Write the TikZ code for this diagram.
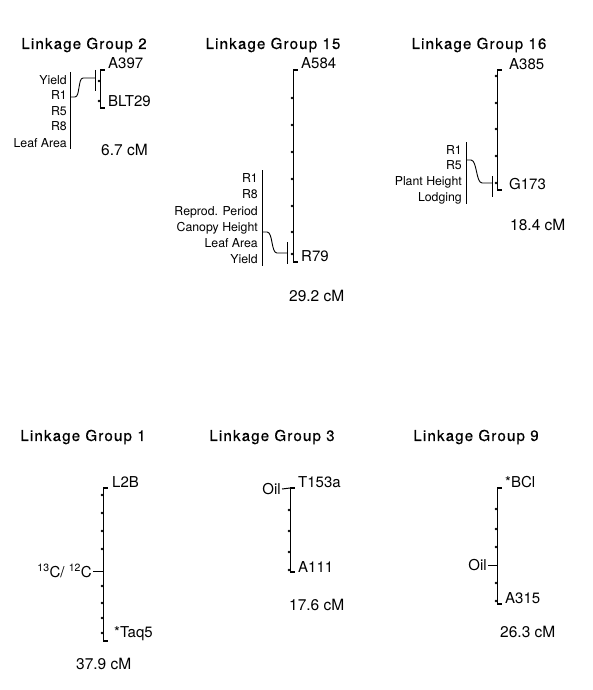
\documentclass[tikz,border=0pt]{standalone}
\usepackage{fontspec}
\setmainfont{TeX Gyre Heros}
\newfontfamily\ttlfont[LetterSpace=8,FakeBold=0.6]{TeX Gyre Heros}
\begin{document}
\begin{tikzpicture}[x=1pt,y=-1pt,
  chrom/.style={line width=1pt},
  tick/.style={line width=1.3pt},
  qtlbar/.style={line width=1pt},
  link/.style={line width=0.9pt},
  ttl/.style={font=\ttlfont\fontsize{15}{17}\selectfont, inner sep=0pt},
  mk/.style={font=\fontsize{15}{17}\selectfont, inner sep=0pt, anchor=base west},
  lmk/.style={font=\fontsize{15}{17}\selectfont, inner sep=0pt, anchor=east},
  trait/.style={font=\fontsize{12.3}{14}\selectfont, inner sep=0pt, anchor=base east},
  cml/.style={font=\fontsize{15.5}{17}\selectfont, inner sep=0pt, anchor=base west},
  bump/.style={circle, fill, inner sep=0pt, minimum size=2.6pt}]
\useasboundingbox (0,0) rectangle (592,690);

% ---------------- Linkage Group 2 ----------------
\node[ttl] (t2) at (84,45) {Linkage Group 2};
\coordinate (g2top) at (100,70);
\coordinate (g2bot) at (100,108);
\draw[chrom] (g2top) -- (g2bot);
\draw[tick] (g2top) -- ++(5,0);
\draw[tick] (g2bot) -- ++(5,0);
\node[bump] (g2d1) at (99,81) {};
\node[bump] (g2d2) at (99,101) {};
\node[mk] (A397) at (108,68.5) {A397};
\node[mk] (BLT29) at (108,106.5) {BLT29};
\node[cml] (cm2) at (101,155.5) {6.7 cM};
\coordinate (q2top) at (70,72);
\coordinate (q2bot) at (70,149);
\draw[qtlbar] (q2top) -- (q2bot);
\node[trait] (g2a) at (67,84.5) {Yield};
\node[trait] (g2b) at (67,100) {R1};
\node[trait] (g2c) at (67,115.5) {R5};
\node[trait] (g2d) at (67,131) {R8};
\node[trait] (g2e) at (67,147) {Leaf Area};
\coordinate (q2c) at (70,97);
\coordinate (b2t) at (95,70);
\coordinate (b2b) at (95,91);
\coordinate (s2) at (95,78);
\draw[link] (b2t) -- (b2b);
\draw[link] (q2c) -- ++(5,0) .. controls +(5,0) and +(-5,0) .. (83,78) -- (s2);

% ---------------- Linkage Group 15 ----------------
\node[ttl] (t15) at (273,45) {Linkage Group 15};
\coordinate (g15top) at (293,70);
\coordinate (g15bot) at (293,262);
\draw[chrom] (g15top) -- (g15bot);
\draw[tick] (g15top) -- ++(5,0);
\draw[tick] (g15bot) -- ++(5,0);
\foreach \y [count=\i] in {98,125,152,179,206,232,254}
  \node[bump] (g15d\i) at (292,\y) {};
\node[mk] (A584) at (301,68.5) {A584};
\node[mk] (R79) at (301,261.5) {R79};
\node[cml] (cm15) at (289,301.5) {29.2 cM};
\coordinate (q15top) at (262,170);
\coordinate (q15bot) at (262,266);
\draw[qtlbar] (q15top) -- (q15bot);
\node[trait] (g15a) at (258,182) {R1};
\node[trait] (g15b) at (258,198) {R8};
\node[trait] (g15c) at (258,215) {Reprod. Period};
\node[trait] (g15d) at (258,231) {Canopy Height};
\node[trait] (g15e) at (258,247) {Leaf Area};
\node[trait] (g15f) at (258,263) {Yield};
\coordinate (q15c) at (262,232);
\coordinate (b15t) at (287,242);
\coordinate (b15b) at (287,264);
\coordinate (s15) at (287,253);
\draw[link] (b15t) -- (b15b);
\draw[link] (q15c) -- ++(5,0) .. controls +(6,0) and +(-6,0) .. (277,253) -- (s15);

% ---------------- Linkage Group 16 ----------------
\node[ttl] (t16) at (479,45) {Linkage Group 16};
\coordinate (g16top) at (497,70);
\coordinate (g16bot) at (497,190);
\draw[chrom] (g16top) -- (g16bot);
\draw[tick] (g16top) -- ++(5,0);
\draw[tick] (g16bot) -- ++(5,0);
\foreach \y [count=\i] in {76,103,129,156,183}
  \node[bump] (g16d\i) at (496,\y) {};
\node[mk] (A385) at (509,69.5) {A385};
\node[mk] (G173) at (509,189) {G173};
\node[cml] (cm16) at (510,230.5) {18.4 cM};
\coordinate (q16top) at (466,142);
\coordinate (q16bot) at (466,204);
\draw[qtlbar] (q16top) -- (q16bot);
\node[trait] (g16a) at (462,154) {R1};
\node[trait] (g16b) at (462,169) {R5};
\node[trait] (g16c) at (462,185) {Plant Height};
\node[trait] (g16d) at (462,201) {Lodging};
\coordinate (q16c) at (466,160);
\coordinate (b16t) at (492,176);
\coordinate (b16b) at (492,197);
\coordinate (s16) at (492,183);
\draw[link] (b16t) -- (b16b);
\draw[link] (q16c) -- ++(5,0) .. controls +(6,0) and +(-6,0) .. (482,183) -- (s16);

% ---------------- Linkage Group 1 ----------------
\node[ttl] (t1) at (83,437) {Linkage Group 1};
\coordinate (g1top) at (103,488);
\coordinate (g1bot) at (103,641);
\draw[chrom] (g1top) -- (g1bot);
\draw[tick] (g1top) -- ++(5,0);
\draw[tick] (g1bot) -- ++(5,0);
\foreach \y [count=\i] in {495,513,531,549,586,603,618,633}
  \node[bump] (g1d\i) at (102,\y) {};
\coordinate (g1c) at (103,571);
\node[lmk] (C13) at (92,571) {\textsuperscript{13}C/ \textsuperscript{12}C};
\draw[chrom] (C13.east) ++(1,0) coordinate (g1ct) -- (g1c);
\node[mk] (L2B) at (112,487.5) {L2B};
\node[mk] (Taq5) at (114,637.5) {*Taq5};
\node[cml] (cm1) at (76,669.5) {37.9 cM};

% ---------------- Linkage Group 3 ----------------
\node[ttl] (t3) at (272,437) {Linkage Group 3};
\coordinate (g3top) at (290,488);
\coordinate (g3bot) at (290,572);
\draw[chrom] (g3top) -- (g3bot);
\draw[tick] (g3top) -- ++(5,0);
\draw[tick] (g3bot) -- ++(5,0);
\foreach \y [count=\i] in {510,531,552,570}
  \node[bump] (g3d\i) at (289,\y) {};
\node[lmk] (Oil3) at (281,489) {Oil};
\draw[chrom] (Oil3.east) ++(1,0) -- (g3top);
\node[mk] (T153a) at (298,487.5) {T153a};
\node[mk] (A111) at (298,572.5) {A111};
\node[cml] (cm3) at (289,610.5) {17.6 cM};

% ---------------- Linkage Group 9 ----------------
\node[ttl] (t9) at (476,437) {Linkage Group 9};
\coordinate (g9top) at (497,488);
\coordinate (g9bot) at (497,604);
\draw[chrom] (g9top) -- (g9bot);
\draw[tick] (g9top) -- ++(5,0);
\draw[tick] (g9bot) -- ++(5,0);
\foreach \y [count=\i] in {509,529,547,583,601}
  \node[bump] (g9d\i) at (496,\y) {};
\coordinate (g9c) at (497,565);
\node[lmk] (Oil9) at (487,565) {Oil};
\draw[chrom] (Oil9.east) ++(1,0) -- (g9c);
\node[mk] (BCl) at (505,487.5) {*BCl};
\node[mk] (A315) at (505,603.5) {A315};
\node[cml] (cm9) at (500,637.5) {26.3 cM};
\end{tikzpicture}
\end{document}
